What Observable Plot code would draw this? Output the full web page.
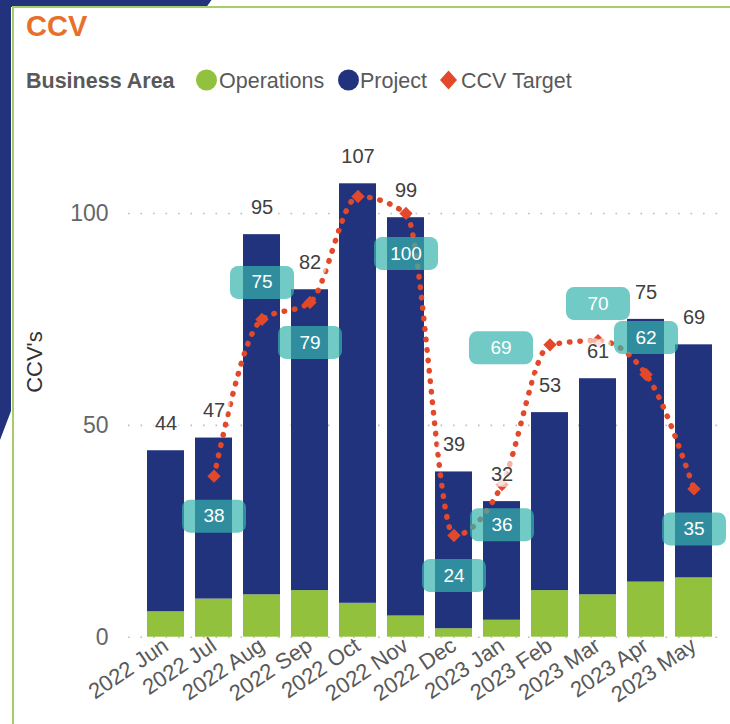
<!DOCTYPE html>
<html>
<head>
<meta charset="utf-8">
<script src="https://cdn.jsdelivr.net/npm/d3@7"></script>
<script src="https://cdn.jsdelivr.net/npm/@observablehq/plot@0.6"></script>
<style>
  html, body { margin: 0; padding: 0; }
  body { width: 730px; height: 724px; overflow: hidden; position: relative; background: #ffffff;
         font-family: "Liberation Sans", Arial, sans-serif; }
  #bg, #deco, #chart { position: absolute; left: 0; top: 0; }
  #card { position: absolute; left: 12px; top: 6px; width: 760px; height: 760px;
          border: 2px solid #a5cf66; background: #ffffff; }
  #chart svg { background: transparent !important; overflow: visible; }
</style>
</head>
<body>
<svg id="bg" width="730" height="724"><polygon points="0,0 211.5,0 206.5,7 11,7 11,411 0,440" fill="#22327c"/></svg>
<div id="card"></div>
<svg id="deco" width="730" height="724" font-family="Liberation Sans, Arial, sans-serif">
  <text x="26" y="36" font-size="29" font-weight="bold" fill="#e8702a">CCV</text>
  <text x="26" y="87.5" font-size="21.5" font-weight="bold" fill="#595959">Business Area</text>
  <circle cx="206.5" cy="80" r="10.5" fill="#92c13e"/>
  <text x="219" y="87.5" font-size="21.5" fill="#595959">Operations</text>
  <circle cx="348.5" cy="80" r="10.5" fill="#22337e"/>
  <text x="360" y="87.5" font-size="21.5" fill="#595959">Project</text>
  <polygon points="448.5,70.5 457,80 448.5,89.5 440,80" fill="#e2492a"/>
  <text x="461" y="87.5" font-size="21.5" fill="#595959">CCV Target</text>
  <text transform="translate(42,362) rotate(-90)" text-anchor="middle" font-size="22" fill="#333333">CCV's</text>
</svg>
<div id="chart"></div>
<script>
// ---- data ----
const months = ["2022 Jun","2022 Jul","2022 Aug","2022 Sep","2022 Oct","2022 Nov","2022 Dec","2023 Jan","2023 Feb","2023 Mar","2023 Apr","2023 May"];
const operations = [6, 9, 10, 11, 8, 5, 2, 4, 11, 10, 13, 14];
const project    = [38, 38, 85, 71, 99, 94, 37, 28, 42, 51, 62, 55];
const totals     = [44, 47, 95, 82, 107, 99, 39, 32, 53, 61, 75, 69];
const targets    = [null, 38, 75, 79, 104, 100, 24, 36, 69, 70, 62, 35];
const areas = ["Operations", "Project"];
const yTicks = [0, 50, 100];

// ---- label placement (layout, not data) ----
const below = new Set(["2022 Jul","2022 Sep","2022 Nov","2022 Dec","2023 Jan","2023 May"]);
const above = new Set(["2022 Aug","2023 Mar","2023 Apr"]);
const leftSide = new Set(["2023 Feb"]);

const rows = months.map((m, i) => ({month: m, total: totals[i], target: targets[i]}));
const stacked = months.flatMap((m, i) => [
  {month: m, area: areas[0], value: operations[i]},
  {month: m, area: areas[1], value: project[i]}
]);
const tgt = rows.filter(d => d.target != null);

const boxSymbol = {
  draw(ctx) {
    const w = 32, h = 16.5, r = 8;
    ctx.moveTo(-w + r, -h);
    ctx.lineTo(w - r, -h); ctx.arcTo(w, -h, w, -h + r, r);
    ctx.lineTo(w, h - r); ctx.arcTo(w, h, w - r, h, r);
    ctx.lineTo(-w + r, h); ctx.arcTo(-w, h, -w, h - r, r);
    ctx.lineTo(-w, -h + r); ctx.arcTo(-w, -h, -w + r, -h, r);
    ctx.closePath();
  }
};

const teal = "#34b3ac";
const red = "#e2492a";
function labelBoxes(set, dx, dy) {
  const d = tgt.filter(r => set.has(r.month));
  return [
    Plot.dot(d, {x: "month", y: "target", symbol: boxSymbol, r: 1, fill: teal, fillOpacity: 0.7, stroke: null, dx, dy}),
    Plot.text(d, {x: "month", y: "target", text: r => String(r.target), fill: "#ffffff", fontSize: 19, dx, dy})
  ];
}

const chart = Plot.plot({
  width: 730,
  height: 724,
  marginLeft: 138,
  marginRight: 7.6,
  marginTop: 149.4,
  marginBottom: 87.3,
  style: {background: "transparent", fontFamily: "Liberation Sans, Arial, sans-serif", overflow: "visible"},
  x: {domain: months, paddingInner: 0.22, paddingOuter: 0.11, label: null},
  y: {domain: [0, 115], label: null},
  color: {domain: areas, range: ["#92c13e", "#22337e"]},
  marks: [
    Plot.ruleY(yTicks, {stroke: "#bdbdbd", strokeWidth: 1.6, strokeDasharray: "1.6,10.9", insetLeft: -10}),
    Plot.barY(stacked, {x: "month", y: "value", fill: "area", order: areas}),
    Plot.axisX({tickSize: 0, tickRotate: -34, fontSize: 22, tickPadding: 6, fill: "#595959", label: null}),
    Plot.axisY({ticks: yTicks, tickSize: 0, tickPadding: 30, fontSize: 23, fill: "#666666", label: null}),
    Plot.lineY(tgt, {x: "month", y: "target", curve: "monotone-x", stroke: red, strokeWidth: 5.5,
                     strokeDasharray: "0.5,10", strokeLinecap: "round"}),
    Plot.dot(tgt, {x: "month", y: "target", symbol: "diamond2", r: 6, fill: red, stroke: null}),
    Plot.text(rows, {x: "month", y: "total", text: d => String(d.total), dy: -27, fontSize: 20,
                     fill: "#404040", stroke: "#ffffff", strokeWidth: 12, strokeOpacity: 0.6}),
    ...labelBoxes(below, 0, 40),
    ...labelBoxes(above, 0, -37),
    ...labelBoxes(leftSide, -49, 3)
  ]
});
document.getElementById("chart").appendChild(chart);
</script>
</body>
</html>
